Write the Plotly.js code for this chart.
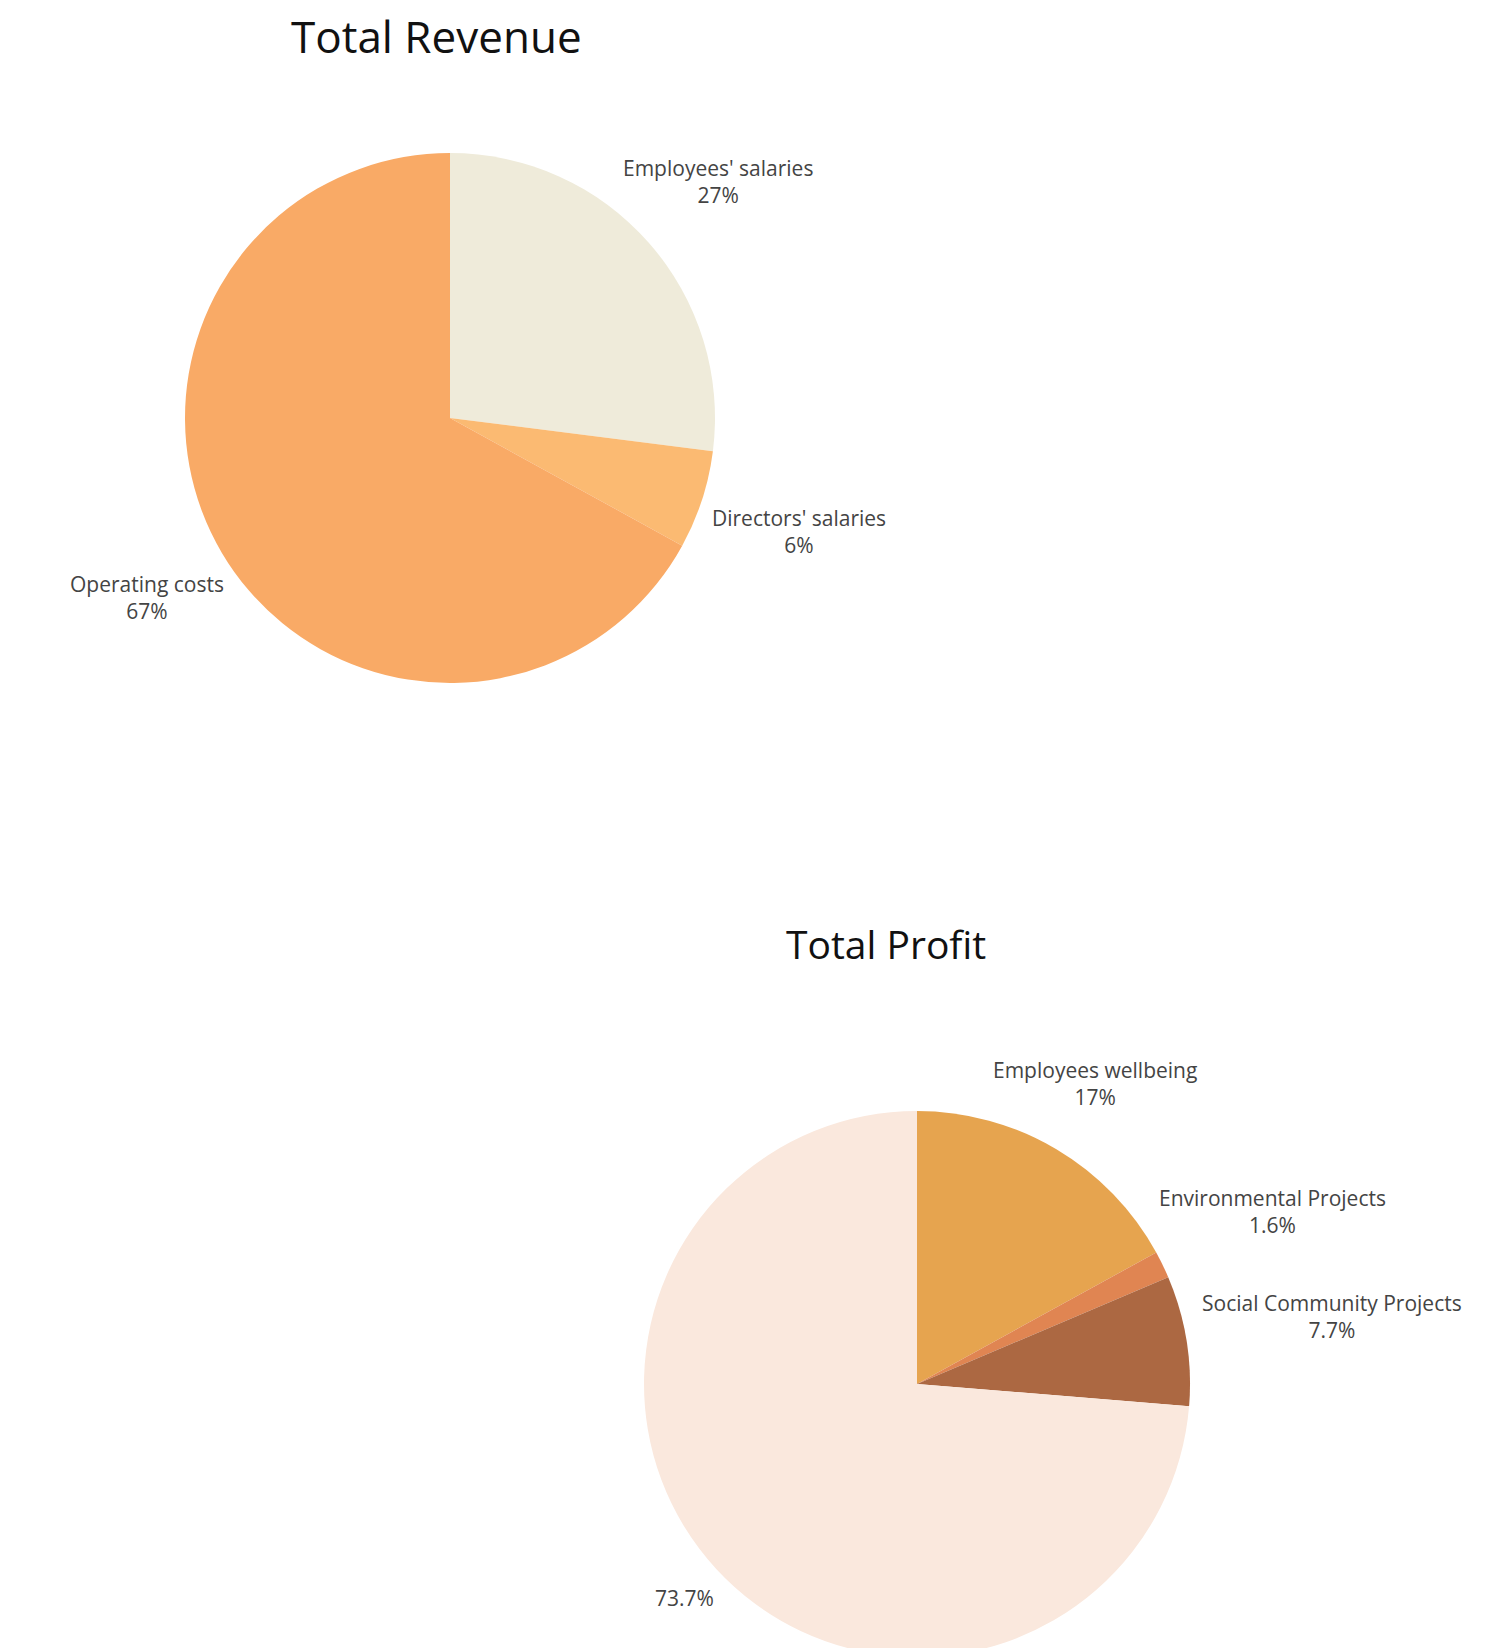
<!DOCTYPE html>
<html>
<head>
<meta charset="utf-8">
<script src="https://cdn.plot.ly/plotly-3.0.1.min.js"></script>
<style>
  html, body { margin: 0; padding: 0; background: #fff; overflow: hidden; }
  #chart { width: 1487px; height: 1700px; }
</style>
</head>
<body>
<div id="chart"></div>
<script>
// ---------------- Data ----------------
const revenueLabels = ["Employees' salaries", "Directors' salaries", "Operating costs"];
const revenueValues = [27, 6, 67];
const revenueColors = ["#EFEBDA", "#FBBA72", "#F9AA66"];
const revenueShowName = [true, true, true];

const profitLabels = ["Employees wellbeing", "Environmental Projects", "Social Community Projects", "Other"];
const profitValues = [17, 1.6, 7.7, 73.7];
const profitColors = ["#E6A44F", "#E08552", "#AC6842", "#FAE8DD"];
const profitShowName = [true, true, true, false];

const titles = ["Total Revenue", "Total Profit"];

// ---------------- Style / layout constants ----------------
const W = 1487, H = 1700;
const FONT = "'Open Sans', Lato, sans-serif";
const LABEL_SIZE = 21;
const LABEL_COLOR = "#444";
const LABEL_GAP = 19;

const revenueDomain = { x: [0.12441, 0.48083], y: [0.59824, 0.91] };
const profitDomain  = { x: [0.43309, 0.80027], y: [0.025294, 0.346471] };

// ---------------- Helpers ----------------
const canvas = document.createElement("canvas");
const ctx = canvas.getContext("2d");
ctx.font = LABEL_SIZE + "px 'Open Sans'";
function textWidth(s) { return ctx.measureText(s).width; }

function fmtPercent(frac) {
  let s = (frac * 100).toPrecision(3);
  if (s.indexOf(".") !== -1) s = s.replace(/[.]?0+$/, "");
  return s + "%";
}

function pieGeom(domain) {
  const x0 = domain.x[0] * W, x1 = domain.x[1] * W;
  const y0 = (1 - domain.y[1]) * H, y1 = (1 - domain.y[0]) * H;
  return { cx: (x0 + x1) / 2, cy: (y0 + y1) / 2, r: Math.min(x1 - x0, y1 - y0) / 2 };
}

// Outside labels centred on each slice's mid-angle ray (clockwise from 12 o'clock)
function sliceLabels(labels, values, showName, domain) {
  const g = pieGeom(domain);
  const total = values.reduce((a, b) => a + b, 0);
  let cum = 0;
  const anns = [];
  values.forEach((v, i) => {
    const mid = 2 * Math.PI * (cum + v / 2) / total;
    cum += v;
    const lines = showName[i] ? [labels[i], fmtPercent(v / total)] : [fmtPercent(v / total)];
    const hw = Math.max(...lines.map(textWidth)) / 2;
    const hh = lines.length * 1.3 * LABEL_SIZE / 2;
    const s = Math.sin(mid), c = Math.cos(mid);
    const ext = Math.sqrt((hw * s) * (hw * s) + (hh * c) * (hh * c));
    const d = g.r + LABEL_GAP + ext;
    const px = g.cx + d * s;
    const py = g.cy - d * c;
    anns.push({
      text: lines.join("<br>"),
      x: px / W, y: 1 - py / H,
      xref: "paper", yref: "paper",
      xanchor: "center", yanchor: "middle",
      align: "center", showarrow: false,
      font: { family: FONT, size: LABEL_SIZE, color: LABEL_COLOR }
    });
  });
  return anns;
}

// ---------------- Traces ----------------
const data = [
  {
    type: "pie",
    labels: revenueLabels,
    values: revenueValues,
    marker: { colors: revenueColors },
    sort: false,
    direction: "clockwise",
    rotation: 0,
    textinfo: "none",
    showlegend: false,
    hoverinfo: "label+percent",
    domain: revenueDomain
  },
  {
    type: "pie",
    labels: profitLabels,
    values: profitValues,
    marker: { colors: profitColors },
    sort: false,
    direction: "clockwise",
    rotation: 0,
    textinfo: "none",
    showlegend: false,
    hoverinfo: "label+percent",
    domain: profitDomain
  }
];

const annotations = [
  { text: titles[0], x: 0.29388, y: 0.97882, xref: "paper", yref: "paper",
    xanchor: "center", yanchor: "middle", showarrow: false,
    font: { family: FONT, size: 44, color: "#111" } },
  { text: titles[1], x: 0.59583, y: 0.44529, xref: "paper", yref: "paper",
    xanchor: "center", yanchor: "middle", showarrow: false,
    font: { family: FONT, size: 39, color: "#111" } }
].concat(
  sliceLabels(revenueLabels, revenueValues, revenueShowName, revenueDomain),
  sliceLabels(profitLabels, profitValues, profitShowName, profitDomain)
);

const layout = {
  width: W,
  height: H,
  margin: { l: 0, r: 0, t: 0, b: 0 },
  paper_bgcolor: "#fff",
  font: { family: FONT, color: LABEL_COLOR },
  annotations: annotations
};

Plotly.newPlot("chart", data, layout, { displayModeBar: false, staticPlot: true });
</script>
</body>
</html>
